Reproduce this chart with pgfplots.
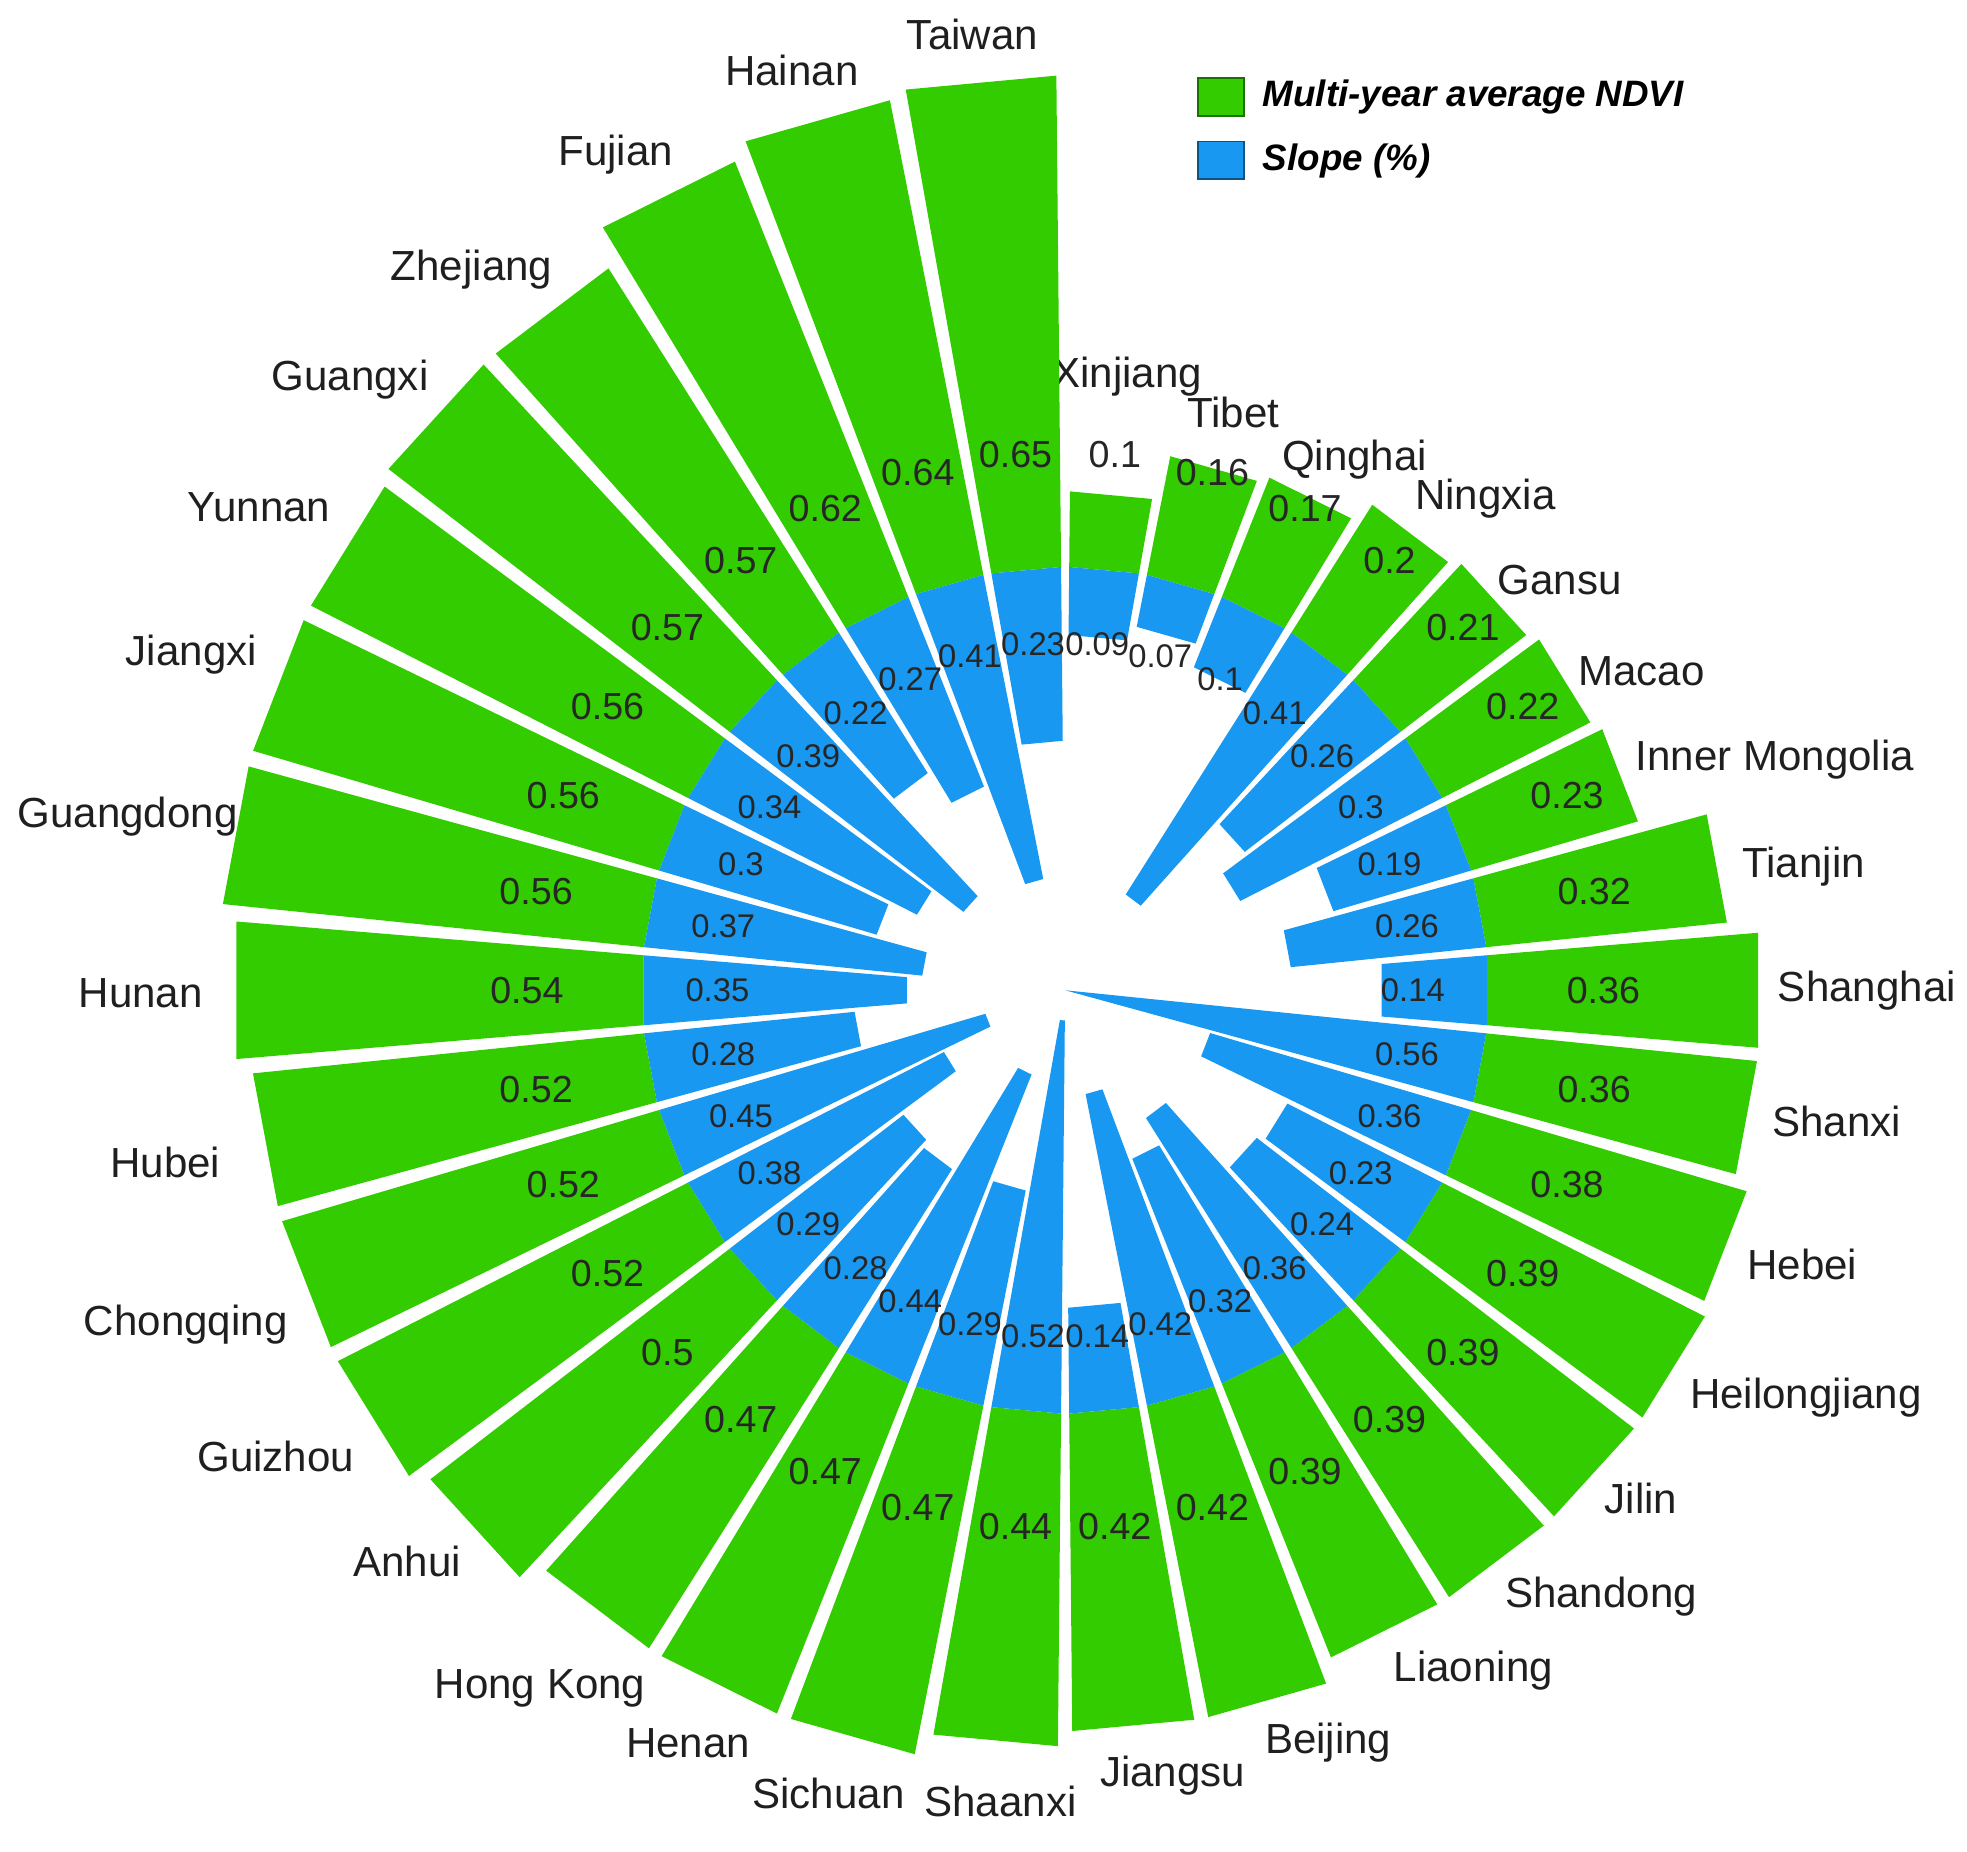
\documentclass[border=0pt]{standalone}
\usepackage{pgfplots}
\usepackage{pgfplotstable}
\pgfplotsset{compat=1.18}
\usepackage{fontspec}
\setmainfont{Liberation Sans}

\definecolor{ndvigreen}{RGB}{51,204,0}
\definecolor{slopeblue}{RGB}{24,152,240}

% provinces, clockwise from 12 o'clock
% lift = extra radial room for the name, dx/dy = small nudges of the name
\pgfplotstableread{
name ndvi slope lift dx dy
Xinjiang 0.1 0.09 0.10 0 0
Tibet 0.16 0.07 0 0 0.014
Qinghai 0.17 0.1 0 0 0
Ningxia 0.2 0.41 0 0.022 0
Gansu 0.21 0.26 0 0 -0.018
Macao 0.22 0.3 0 0 -0.022
{Inner Mongolia} 0.23 0.19 0 0 0
Tianjin 0.32 0.26 0 0 -0.008
Shanghai 0.36 0.14 0 -0.01 0
Shanxi 0.36 0.56 0 0 0
Hebei 0.38 0.36 0 0 -0.008
Heilongjiang 0.39 0.23 0 0.014 -0.01
Jilin 0.39 0.24 0 0 0
Shandong 0.39 0.36 0 0.04 0
Liaoning 0.39 0.32 0 0.055 0
Beijing 0.42 0.42 0 0.048 0
Jiangsu 0.42 0.14 0 0.04 -0.008
Shaanxi 0.44 0.52 0.01 0.02 -0.018
Sichuan 0.47 0.29 0.01 0.008 -0.015
Henan 0.47 0.44 0.01 0.016 -0.02
{Hong Kong} 0.47 0.28 0.03 0.048 -0.032
Anhui 0.5 0.29 0 -0.01 -0.01
Guizhou 0.52 0.38 0 -0.01 -0.024
Chongqing 0.52 0.45 0 0 -0.032
Hubei 0.52 0.28 0 -0.025 -0.024
Hunan 0.54 0.35 0 -0.008 -0.008
Guangdong 0.56 0.37 0 0.036 0.014
Jiangxi 0.56 0.3 0 0 0.02
Yunnan 0.56 0.34 0 -0.006 0.016
Guangxi 0.57 0.39 0 -0.01 0.01
Zhejiang 0.57 0.22 0 -0.02 0.008
Fujian 0.62 0.27 0 -0.02 0
Hainan 0.64 0.41 0 0 0.004
Taiwan 0.65 0.23 0 0 0
}\provs

\newlength\labw
\newcommand\provfont{\fontsize{9.5}{11}\selectfont}
\tikzset{
  provlab/.style={font=\provfont, text=black!88, inner sep=0pt, text height=7pt, text depth=2pt},
  ndvilab/.style={font=\fontsize{8.5}{10}\selectfont, text=black!85, inner sep=0pt},
  slopelab/.style={font=\fontsize{7.4}{9}\selectfont, text=black!85, inner sep=0pt},
}

\begin{document}
% widths of the province names, measured before the picture
\pgfplotsinvokeforeach{0,...,33}{%
  \pgfplotstablegetelem{#1}{name}\of\provs
  \settowidth\labw{\provfont\pgfplotsretval}%
  \expandafter\xdef\csname labw#1\endcsname{\the\labw}%
}%
\begin{tikzpicture}
\begin{axis}[
  hide axis,
  x=6cm, y=6cm,
  xmin=-1.409, xmax=1.193,
  ymin=-1.139, ymax=1.310,
  clip=false,
  legend image code/.code={\draw[#1] (0cm,-0.15cm) rectangle (0.37cm,0.15cm); \path (0.41cm,0cm);},
  legend cell align=left,
  legend style={at={(axis cs:0.173,1.215)}, anchor=north west,
    draw=none, fill=none, inner sep=0pt, row sep=0.12cm,
    font=\fontsize{8.3}{10}\selectfont\bfseries\itshape,
    nodes={inner ysep=0.06cm, inner xsep=0.1cm}},
]
\pgfmathsetmacro\dstep{360/34}
\def\hgap{0.55}
\def\rzero{0.56}

\pgfplotsinvokeforeach{0,...,33}{
  \pgfplotstablegetelem{#1}{name}\of\provs \let\vName\pgfplotsretval
  \pgfplotstablegetelem{#1}{ndvi}\of\provs \let\vN\pgfplotsretval
  \pgfplotstablegetelem{#1}{slope}\of\provs \let\vS\pgfplotsretval
  \pgfplotstablegetelem{#1}{lift}\of\provs \let\vL\pgfplotsretval
  \pgfplotstablegetelem{#1}{dx}\of\provs \let\vDx\pgfplotsretval
  \pgfplotstablegetelem{#1}{dy}\of\provs \let\vDy\pgfplotsretval
  \pgfmathsetmacro\thA{90-#1*\dstep-\hgap}
  \pgfmathsetmacro\thB{90-(#1+1)*\dstep+\hgap}
  \pgfmathsetmacro\thM{90-(#1+0.5)*\dstep}
  \pgfmathsetmacro\rOut{\rzero+\vN}
  \pgfmathsetmacro\rIn{max(\rzero-\vS,0)}
  \edef\temp{%
    \noexpand\addplot[data cs=polar, fill=ndvigreen, draw=none, forget plot]
      coordinates {(\thA,\rzero) (\thA,\rOut) (\thB,\rOut) (\thB,\rzero)};
    \noexpand\addplot[data cs=polar, fill=slopeblue, draw=none, forget plot]
      coordinates {(\thA,\rIn) (\thA,\rzero) (\thB,\rzero) (\thB,\rIn)};
  }\temp
  \pgfmathsetmacro\xn{0.712*cos(\thM)}
  \pgfmathsetmacro\yn{0.712*sin(\thM)}
  \pgfmathsetmacro\xs{0.46*cos(\thM)}
  \pgfmathsetmacro\ys{0.46*sin(\thM)}
  % name sits outside the bar end, pushed out by half its own size
  \pgfmathsetmacro\hw{0.5*\csname labw#1\endcsname/170.71654}
  \pgfmathsetmacro\rl{\rOut+0.033+\vL}
  \pgfmathsetmacro\xl{(\rl+\hw)*cos(\thM)+\vDx}
  \pgfmathsetmacro\yl{(\rl+0.022)*sin(\thM)+\vDy}
  \edef\temp{%
    \noexpand\node[ndvilab] at (axis cs:\xn,\yn) {\vN};
    \noexpand\node[slopelab] at (axis cs:\xs,\ys) {\vS};
    \noexpand\node[provlab] at (axis cs:\xl,\yl) {\vName};
  }\temp
}

\addlegendimage{fill=ndvigreen, draw=ndvigreen!55!black}
\addlegendentry{Multi-year average NDVI}
\addlegendimage{fill=slopeblue, draw=slopeblue!55!black}
\addlegendentry{Slope (\%)}

\coordinate (bbsw) at (axis cs:-1.409,-1.139);
\coordinate (bbne) at (axis cs:1.193,1.310);
\end{axis}
\pgfresetboundingbox
\path (bbsw) rectangle (bbne);
\end{tikzpicture}
\end{document}
